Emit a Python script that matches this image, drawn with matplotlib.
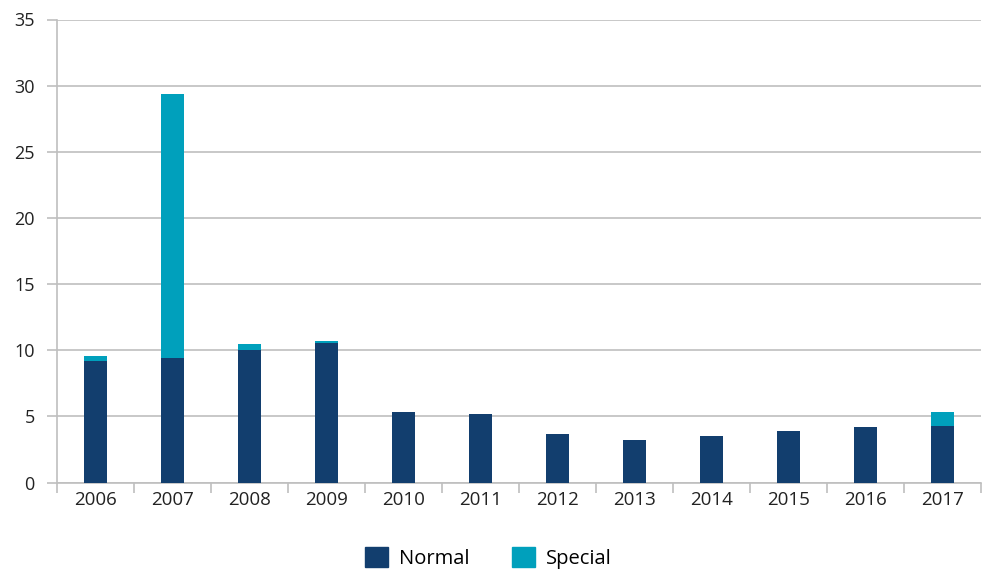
import matplotlib
matplotlib.use("Agg")
import matplotlib.pyplot as plt
import numpy as np
from matplotlib.patches import Patch

years = ["2006", "2007", "2008", "2009", "2010", "2011", "2012", "2013", "2014", "2015", "2016", "2017"]
normal = [9.15, 9.4, 10.0, 10.55, 5.35, 5.2, 3.65, 3.25, 3.55, 3.92, 4.22, 4.3]
special = [0.45, 20.0, 0.5, 0.15, 0, 0, 0, 0, 0, 0, 0, 1.05]

plt.rcParams['font.family'] = ['Open Sans', 'DejaVu Sans']

navy = "#123e6e"
teal = "#00a0bc"
grid = "#bfbfbf"

fig = plt.figure(figsize=(9.87, 5.70), dpi=100)
ax = fig.add_axes([57/987, 1-482.5/570, (981-57)/987, (482.5-19.5)/570])

x = np.arange(len(years))
ax.bar(x, normal, width=0.3, color=navy, zorder=3)
ax.bar(x, special, width=0.3, bottom=normal, color=teal, zorder=3)

ax.set_xlim(-0.5, len(years) - 0.5)
ax.set_ylim(0, 35)
ax.set_yticks(range(0, 36, 5))
ax.yaxis.grid(True, color=grid, linewidth=1.2, zorder=0)
ax.set_axisbelow(True)

ax.set_xticks(x)
ax.set_xticklabels(years)
ax.set_xticks(np.arange(-0.5, len(years), 1), minor=True)
ax.tick_params(axis='x', which='major', length=0, pad=6, labelsize=13.5, colors='#222222')
ax.tick_params(axis='x', which='minor', length=7, width=1.2, color=grid)
ax.tick_params(axis='y', length=7, width=1.2, color=grid, pad=9, labelsize=13, labelcolor='#222222')

for s in ['top', 'right']:
    ax.spines[s].set_visible(False)
for s in ['left', 'bottom']:
    ax.spines[s].set_color(grid)
    ax.spines[s].set_linewidth(1.2)

handles = [Patch(color=navy, label="Normal"), Patch(color=teal, label="Special")]
fig.legend(handles=handles, loc='center', bbox_to_anchor=(0.495, 1-558/570), ncol=2,
           frameon=False, fontsize=14.5, handlelength=1.15, handleheight=1.1,
           columnspacing=2.1, handletextpad=0.55)

fig.savefig("out.png", dpi=100)
